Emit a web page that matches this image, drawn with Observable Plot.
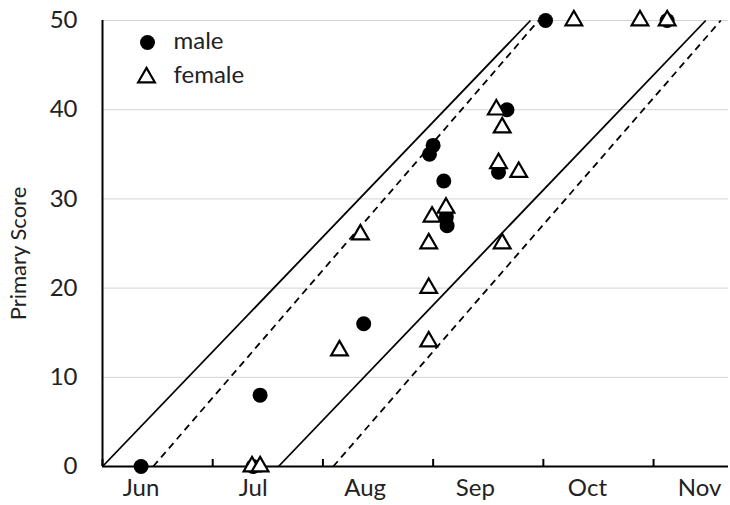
<!DOCTYPE html>
<html><head><meta charset="utf-8">
<script src="https://cdn.jsdelivr.net/npm/d3@7"></script>
<script src="https://cdn.jsdelivr.net/npm/@observablehq/plot@0.6"></script>
<style>body{margin:0;background:#fff}</style>
</head><body><div id="chart"></div>
<script>
// x = days since start of axis, y = primary score
const months = ["Jun","Jul","Aug","Sep","Oct","Nov"];
const monthLabelDay = [10.5, 41, 71.5, 101.5, 132, 162.5];
const tickDays = [0, 30, 60, 90, 120, 150];
const yTicks = [0, 10, 20, 30, 40, 50];

const maleDay   = [10.5, 41.0, 42.9, 71.1, 89.0, 90.0, 92.9, 93.6, 93.8, 107.8, 110.1, 120.6, 153.7];
const maleScore = [0,    0,    8,    16,   35,   36,   32,   28,   27,   33,    40,    50,    50];

const femaleDay   = [40.7, 42.9, 64.5, 70.2, 88.8, 88.8, 88.8, 89.7, 93.5, 107.2, 108.8, 107.8, 113.3, 108.8, 128.3, 146.3, 153.7];
const femaleScore = [0,    0,    13,   26,   14,   20,   25,   28,   29,   40,    38,    34,    33,    25,    50,    50,    50];

const solidStartDay  = [0, 47.9];
const solidEndDay    = [116.5, 164.2];
const dashedStartDay = [13.8, 62.8];
const dashedEndDay   = [118.7, 168.3];
const lineStartScore = 0;
const lineEndScore   = 50;

const male = maleDay.map((d, i) => ({day: d, score: maleScore[i]}));
const female = femaleDay.map((d, i) => ({day: d, score: femaleScore[i]}));
const solid = solidStartDay.map((d, i) => ({x1: d, x2: solidEndDay[i], y1: lineStartScore, y2: lineEndScore}));
const dashed = dashedStartDay.map((d, i) => ({x1: d, x2: dashedEndDay[i], y1: lineStartScore, y2: lineEndScore}));

const FS = 24;
const chart = Plot.plot({
  width: 730, height: 505,
  marginLeft: 102, marginRight: 2, marginTop: 20, marginBottom: 39,
  style: {fontFamily: "Lato, 'Open Sans', sans-serif", fontSize: FS + "px", color: "#000", background: "#fff"},
  x: {domain: [0, 170.4], axis: null},
  y: {domain: [0, 50], axis: null},
  marks: [
    Plot.gridY(yTicks, {stroke: "#d4d4d4", strokeOpacity: 1, strokeWidth: 1}),
    Plot.axisY(yTicks, {tickSize: 0, tickPadding: 25, fontSize: FS, label: null, fill: "#222"}),
    Plot.axisX(tickDays, {tickSize: -7, strokeWidth: 2, tickFormat: () => "", label: null}),
    Plot.text(months, {x: (d, i) => monthLabelDay[i], frameAnchor: "bottom", lineAnchor: "middle", dy: 22, fontSize: FS, fill: "#222"}),
    Plot.text(["Primary Score"], {frameAnchor: "left", textAnchor: "middle", lineAnchor: "middle", rotate: -90, dx: -84, dy: 10, fontSize: 22, fill: "#222"}),
    Plot.link(solid, {x1: "x1", x2: "x2", y1: "y1", y2: "y2", stroke: "#000", strokeWidth: 1.8}),
    Plot.link(dashed, {x1: "x1", x2: "x2", y1: "y1", y2: "y2", stroke: "#000", strokeWidth: 1.8, strokeDasharray: "7,5"}),
    Plot.ruleY([0], {stroke: "#000", strokeWidth: 2}),
    Plot.ruleX([0], {stroke: "#000", strokeWidth: 2}),
    Plot.dot(male, {x: "day", y: "score", r: 7.5, fill: "#000", stroke: "none"}),
    Plot.dot(female, {x: "day", y: "score", symbol: "triangle", r: 6.2, fill: "#fff", stroke: "#000", strokeWidth: 2.2}),
    // legend
    Plot.dot(["male"], {frameAnchor: "top-left", dx: 45, dy: 22, r: 7.5, fill: "#000", stroke: "none"}),
    Plot.dot(["female"], {frameAnchor: "top-left", dx: 44, dy: 57, symbol: "triangle", r: 6.2, fill: "#fff", stroke: "#000", strokeWidth: 2.2}),
    Plot.text(["male"], {frameAnchor: "top-left", lineAnchor: "middle", dx: 71, dy: 21, textAnchor: "start", fontSize: FS, fill: "#222"}),
    Plot.text(["female"], {frameAnchor: "top-left", lineAnchor: "middle", dx: 71, dy: 55, textAnchor: "start", fontSize: FS, fill: "#222"})
  ]
});
document.getElementById("chart").appendChild(chart);
</script>
</body></html>
